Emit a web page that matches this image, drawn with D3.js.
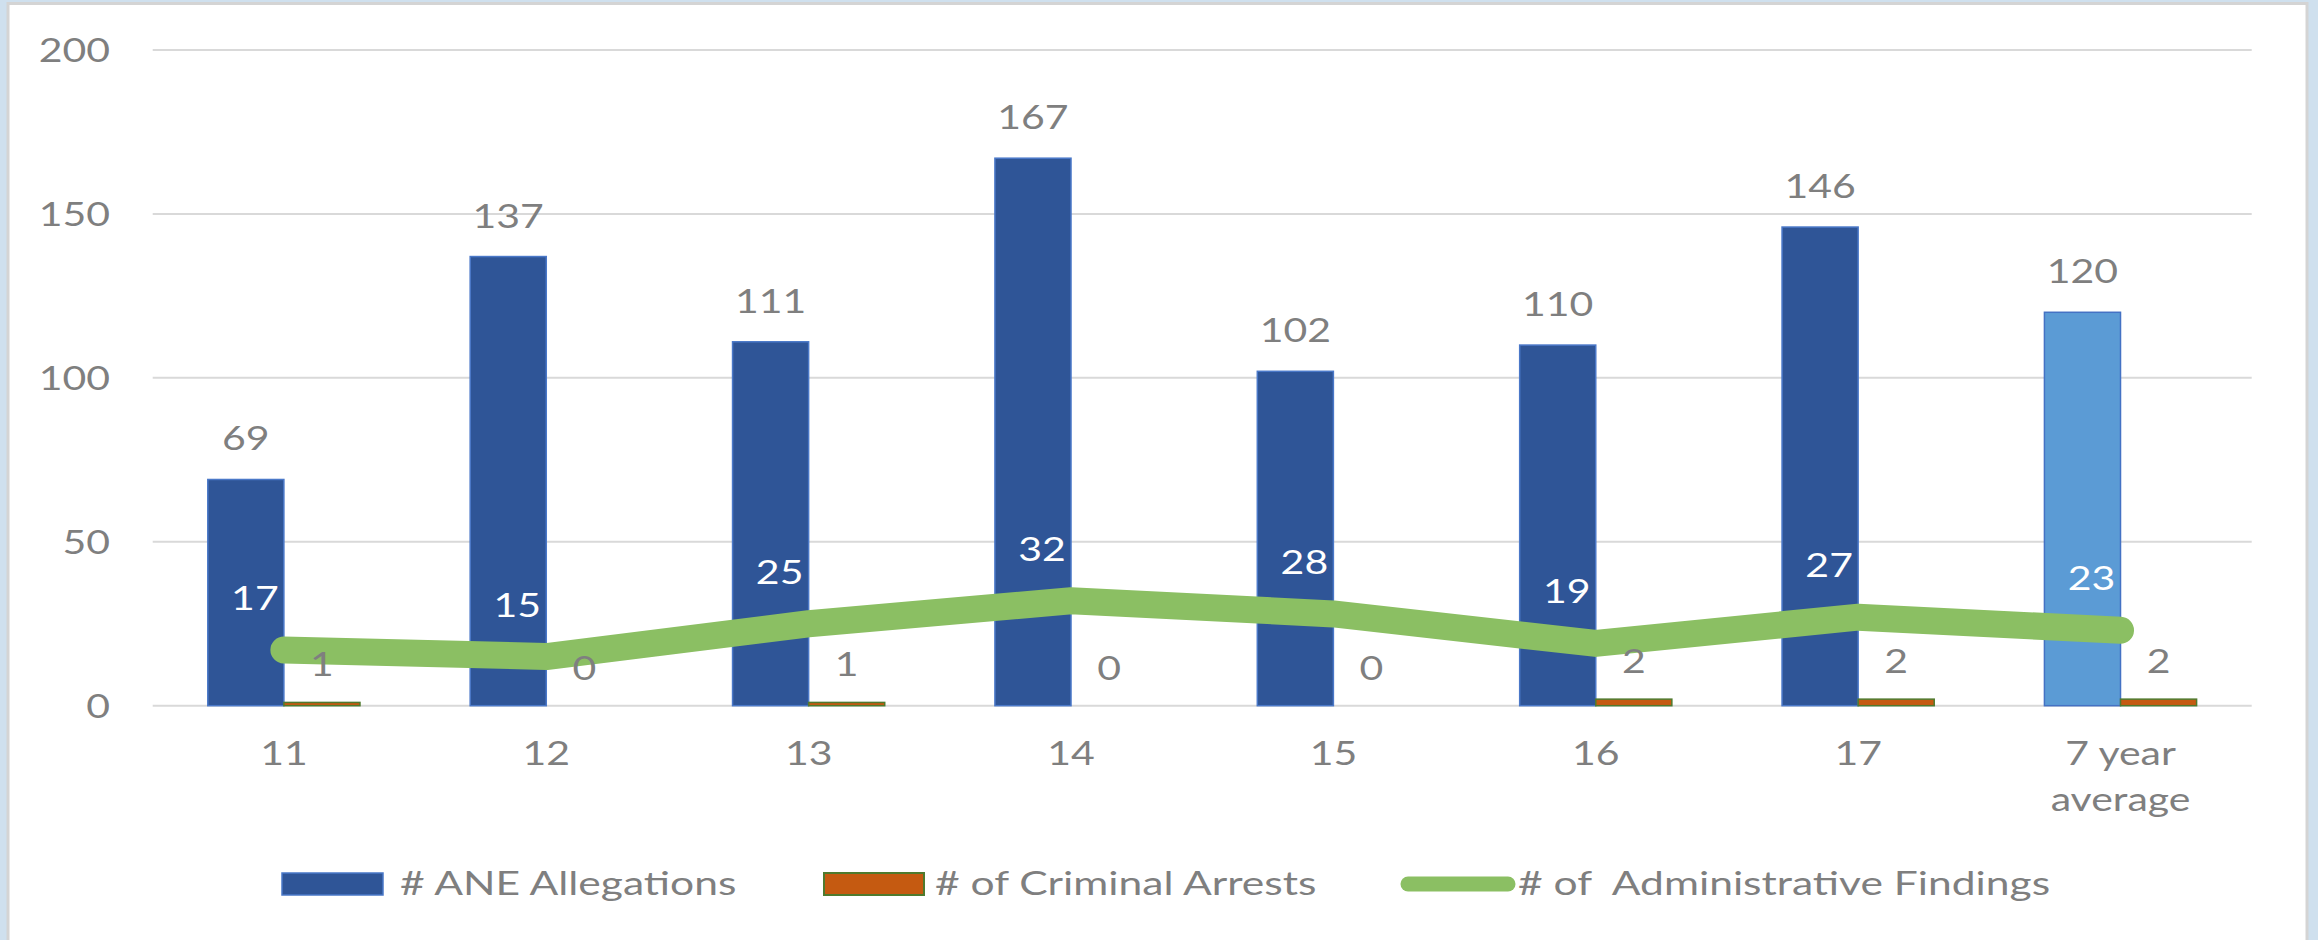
<!DOCTYPE html>
<html>
<head>
<meta charset="utf-8">
<script src="https://cdn.jsdelivr.net/npm/d3@7"></script>
<style>
  html, body { margin: 0; padding: 0; background: #cfe0ee; }
  svg { display: block; }
  text { font-family: Lato, "Open Sans", sans-serif; white-space: pre; }
</style>
</head>
<body>
<svg id="chart" width="2318" height="940"></svg>
<script>
// Reporting years and the seven-year average column
const categories = ["11", "12", "13", "14", "15", "16", "17", "7 year\naverage"];
const aneAllegations = [69, 137, 111, 167, 102, 110, 146, 120];
const criminalArrests = [1, 0, 1, 0, 0, 2, 2, 2];
const adminFindings = [17, 15, 25, 32, 28, 19, 27, 23];
const yTicks = [0, 50, 100, 150, 200];
const seriesNames = ["# ANE Allegations", "# of Criminal Arrests", "# of  Administrative Findings"];

const W = 2318, H = 940;
const plot = { left: 152.7, right: 2251.7, top: 50, bottom: 705.7 };
const colors = {
  ane: "#2f5597", aneEdge: "#4a78c8",
  avg: "#5b9bd5", avgEdge: "#4472c4",
  arrests: "#c55a11", arrestsEdge: "#4f7a2e",
  findings: "#8bbf63",
  text: "#7f7f7f", grid: "#d9d9d9"
};
const fontSize = 32;

const svg = d3.select("#chart");

// Slide panel
svg.append("rect")
  .attr("x", 8).attr("y", 3.5).attr("width", 2299).attr("height", 1000)
  .attr("fill", "#ffffff").attr("stroke", "#d4d4d4").attr("stroke-width", 3);

const x = d3.scaleBand().domain(categories).range([plot.left, plot.right]).paddingInner(0).paddingOuter(0);
const bw = x.bandwidth();
const xSub = d3.scaleBand().domain(["ane", "arrests"]).range([bw * 0.21, bw * 0.79]);
const y = d3.scaleLinear().domain([0, 200]).range([plot.bottom, plot.top]);

// Widen glyphs horizontally to the chart's typeface proportions
function stretch(sel, k = 1.28) {
  sel.each(function () {
    const len = this.getComputedTextLength();
    if (len > 0) {
      d3.select(this).attr("textLength", len * k).attr("lengthAdjust", "spacingAndGlyphs");
    }
  });
  return sel;
}

// Gridlines
svg.append("g").selectAll("line").data(yTicks).join("line")
  .attr("x1", plot.left).attr("x2", plot.right)
  .attr("y1", d => y(d)).attr("y2", d => y(d))
  .attr("stroke", colors.grid).attr("stroke-width", 2);

// Y axis labels
const yAxis = svg.append("g").attr("transform", "translate(110,0)")
  .call(d3.axisLeft(y).tickValues(yTicks).tickSize(0).tickPadding(0));
yAxis.select(".domain").remove();
yAxis.selectAll("text")
  .attr("fill", colors.text).attr("font-size", fontSize)
  .attr("font-family", "Lato, 'Open Sans', sans-serif")
  .attr("text-anchor", "start")
  .attr("dy", "0.36em")
  .call(stretch)
  .each(function () {
    const w = +d3.select(this).attr("textLength");
    d3.select(this).attr("x", -w);
  });

// X axis labels
const xAxis = svg.append("g").attr("transform", `translate(0,${plot.bottom})`)
  .call(d3.axisBottom(x).tickSize(0).tickPadding(0).tickFormat(""));
xAxis.select(".domain").remove();
xAxis.selectAll(".tick").each(function (d) {
  const lines = d.split("\n");
  const t = d3.select(this).append("text")
    .attr("fill", colors.text).attr("font-size", fontSize).attr("text-anchor", "middle");
  lines.forEach((ln, i) => {
    t.append("tspan").attr("x", 0).attr("y", 59 + i * 46).text(ln);
  });
  t.selectAll("tspan").call(stretch);
});

// Bars
const groups = svg.append("g").selectAll("g").data(categories).join("g")
  .attr("transform", d => `translate(${x(d)},0)`);

groups.append("rect")
  .attr("x", xSub("ane")).attr("width", xSub.bandwidth())
  .attr("y", (d, i) => y(aneAllegations[i]))
  .attr("height", (d, i) => y(0) - y(aneAllegations[i]))
  .attr("fill", (d, i) => i === categories.length - 1 ? colors.avg : colors.ane)
  .attr("stroke", (d, i) => i === categories.length - 1 ? colors.avgEdge : colors.aneEdge)
  .attr("stroke-width", 1.5);

groups.append("rect")
  .attr("x", xSub("arrests")).attr("width", xSub.bandwidth())
  .attr("y", (d, i) => y(criminalArrests[i]))
  .attr("height", (d, i) => y(0) - y(criminalArrests[i]))
  .attr("fill", colors.arrests)
  .attr("stroke", (d, i) => criminalArrests[i] === 0 ? "none" : colors.arrestsEdge)
  .attr("stroke-width", 1.5);

// Administrative findings line
const cx = d => x(d) + bw / 2;
const line = d3.line().x(d => cx(d.c)).y(d => y(d.v));
svg.append("path")
  .datum(categories.map((c, i) => ({ c, v: adminFindings[i] })))
  .attr("d", line)
  .attr("fill", "none").attr("stroke", colors.findings)
  .attr("stroke-width", 27).attr("stroke-linecap", "round").attr("stroke-linejoin", "round");

// Value labels
const labels = svg.append("g").attr("font-size", fontSize).attr("text-anchor", "middle");
labels.selectAll("text.ane").data(categories).join("text").attr("class", "ane")
  .attr("x", d => x(d) + xSub("ane") + xSub.bandwidth() / 2)
  .attr("y", (d, i) => y(aneAllegations[i]) - 29)
  .attr("fill", colors.text)
  .text((d, i) => aneAllegations[i]).call(stretch);

labels.selectAll("text.arr").data(categories).join("text").attr("class", "arr")
  .attr("x", d => x(d) + xSub("arrests") + xSub.bandwidth() / 2)
  .attr("y", (d, i) => y(criminalArrests[i]) - 26)
  .attr("fill", colors.text)
  .text((d, i) => criminalArrests[i]).call(stretch);

labels.selectAll("text.fnd").data(categories).join("text").attr("class", "fnd")
  .attr("x", d => cx(d) - 29)
  .attr("y", (d, i) => y(adminFindings[i]) - 40)
  .attr("fill", "#ffffff")
  .text((d, i) => adminFindings[i]).call(stretch);

// Legend
const legend = svg.append("g").attr("font-size", fontSize);
legend.append("rect").attr("x", 282).attr("y", 873).attr("width", 101).attr("height", 22)
  .attr("fill", colors.ane).attr("stroke", colors.aneEdge).attr("stroke-width", 1.5);
legend.append("rect").attr("x", 824).attr("y", 873).attr("width", 100).attr("height", 22)
  .attr("fill", colors.arrests).attr("stroke", colors.arrestsEdge).attr("stroke-width", 2);
legend.append("line").attr("x1", 1408).attr("x2", 1508).attr("y1", 884).attr("y2", 884)
  .attr("stroke", colors.findings).attr("stroke-width", 15).attr("stroke-linecap", "round");
const legendX = [400, 935, 1518];
legend.selectAll("text").data(seriesNames).join("text")
  .attr("x", (d, i) => legendX[i]).attr("y", 895)
  .attr("fill", colors.text)
  .text(d => d).call(stretch, 1.33);
</script>
</body>
</html>
